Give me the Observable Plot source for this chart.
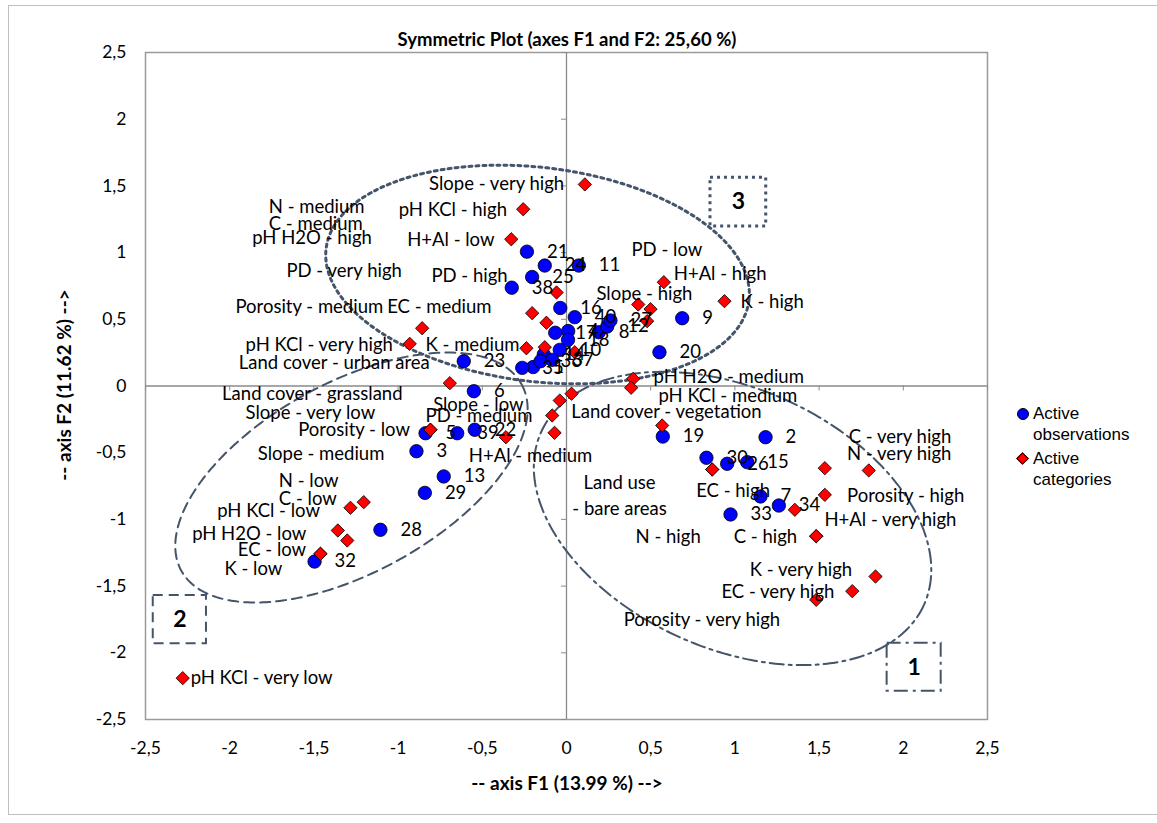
<!DOCTYPE html>
<html><head><meta charset="utf-8">
<script src="https://cdn.jsdelivr.net/npm/d3@7"></script>
<script src="https://cdn.jsdelivr.net/npm/@observablehq/plot@0.6"></script>
<style>
body{margin:0;background:#fff;font-family:Lato,sans-serif;}
#wrap{position:relative;width:1157px;height:823px;overflow:hidden;}
#border{position:absolute;left:8px;top:5px;width:1170px;height:810px;border:1px solid #bfbfbf;box-sizing:border-box;}
#chart{position:absolute;left:0;top:0;}
.t{position:absolute;font-family:Lato,sans-serif;font-weight:bold;color:#000;white-space:nowrap;}
#title{left:0;width:1134px;top:28px;text-align:center;font-size:18.5px;}
#xtitle{left:0;width:1134px;top:771px;text-align:center;font-size:19px;}
#ytitle{left:63px;top:385px;transform:translate(-50%,-50%) rotate(-90deg);font-size:19px;}
#legend{position:absolute;left:1016px;top:403px;font-family:"Liberation Sans",Arial,sans-serif;font-size:17px;line-height:21px;color:#000;}
.li{position:relative;padding-left:17px;margin-bottom:3px;}
.dotc{position:absolute;left:1px;top:5px;width:12px;height:12px;border-radius:50%;background:#0000ff;border:1px solid #000;box-sizing:border-box;}
.dotd{position:absolute;left:2px;top:6px;width:9px;height:9px;background:#ff0000;border:1px solid #000;box-sizing:border-box;transform:rotate(45deg);}
</style></head>
<body>
<div id="wrap">
  <div id="border"></div>
  <div id="chart"></div>
  <div id="title" class="t">Symmetric Plot (axes F1 and F2: 25,60 %)</div>
  <div id="xtitle" class="t">-- axis F1 (13.99 %) --&gt;</div>
  <div id="ytitle" class="t">-- axis F2 (11.62 %) --&gt;</div>
  <div id="legend">
    <div class="li"><span class="dotc"></span>Active<br>observations</div>
    <div class="li"><span class="dotd"></span>Active<br>categories</div>
  </div>
</div>
<script>
// ---- data ----
const axisTicks = [-2.5, -2, -1.5, -1, -0.5, 0, 0.5, 1, 1.5, 2, 2.5];

const obsId = [1,2,3,4,5,6,7,8,9,10,11,12,13,14,15,16,17,18,19,20,21,22,23,24,25,26,27,28,29,30,32,33,34,35,36,37,38,39,40];
const obsF1 = [-0.198,1.182,-0.891,0.010,-0.837,-0.550,1.152,0.192,0.687,-0.040,0.073,0.242,-0.729,-0.135,1.073,-0.037,-0.067,0.009,0.572,0.552,-0.235,-0.545,-0.610,-0.129,-0.204,0.954,0.261,-1.105,-0.841,0.831,-1.496,0.974,1.261,-0.263,-0.154,-0.085,-0.325,-0.649,0.049];
const obsF2 = [0.142,-0.384,-0.489,0.412,-0.354,-0.039,-0.828,0.403,0.508,0.271,0.903,0.446,-0.678,0.236,-0.571,0.585,0.399,0.346,-0.379,0.253,1.007,-0.328,0.186,0.903,0.817,-0.583,0.491,-1.078,-0.801,-0.538,-1.316,-0.963,-0.896,0.136,0.186,0.196,0.737,-0.354,0.516];

const catName = ["Slope - very high","pH KCl - high","H+Al - low","PD - high","EC - medium","N - medium","Porosity - medium","pH KCl - very high","K - medium","C - medium","Land cover - grassland","H+Al - high","K - high","PD - low","Slope - high","PD - very high","pH H2O - high","pH H2O - medium","pH KCl - medium","Land cover - urban area","Slope - low","PD - medium","Slope - very low","Land cover - vegetation","EC - high","C - very high","N - very high","Porosity - high","H+Al - very high","C - high","K - very high","EC - very high","Porosity - very high","Porosity - low","H+Al - medium","K - low","C - low","N - low","pH H2O - low","pH KCl - low","pH KCl - very low","Slope - medium","EC - low","N - high","Land use\n- bare areas"];
const catF1 = [0.109,-0.257,-0.328,-0.059,-0.204,-0.119,-0.857,-0.931,-0.238,-0.129,-0.693,0.578,0.938,0.426,0.499,0.479,0.049,0.396,0.384,0.030,-0.040,-0.085,-0.071,0.568,0.865,1.534,1.795,1.534,1.356,1.483,1.835,1.697,1.483,-0.808,-0.360,-1.461,-1.283,-1.204,-1.358,-1.302,-2.279,-0.808,-1.461,1.483,0.865];
const catF2 = [1.511,1.325,1.100,0.701,0.546,0.474,0.433,0.316,0.283,0.291,0.021,0.778,0.636,0.611,0.576,0.486,0.253,0.054,-0.013,-0.058,-0.109,-0.221,-0.351,-0.296,-0.626,-0.616,-0.633,-0.816,-0.928,-1.126,-1.428,-1.538,-1.603,-0.328,-0.384,-1.258,-0.913,-0.871,-1.083,-1.158,-2.190,-0.328,-1.258,-1.126,-0.626];
// where each category label sits (left end of the text, vertical middle), in axis units
const catLabelF1 = [-0.816,-0.996,-0.946,-0.802,-1.065,-1.768,-1.966,-1.906,-0.837,-1.768,-2.045,0.637,1.033,0.386,0.178,-1.663,-1.866,0.517,0.546,-1.946,-0.792,-0.837,-1.906,0.028,0.770,1.676,1.666,1.666,1.532,0.993,1.088,0.920,0.340,-1.593,-0.580,-2.031,-1.708,-1.708,-2.223,-2.074,-2.232,-1.833,-1.952,0.410,0.315];
const catLabelF2 = [1.511,1.316,1.091,0.821,0.591,1.340,0.591,0.304,0.304,1.211,-0.064,0.836,0.628,1.016,0.691,0.861,1.111,0.064,-0.079,0.171,-0.146,-0.229,-0.201,-0.196,-0.789,-0.384,-0.513,-0.828,-1.008,-1.133,-1.383,-1.546,-1.758,-0.334,-0.528,-1.376,-0.846,-0.714,-1.108,-0.939,-2.186,-0.508,-1.233,-1.133,-0.805];
const catLabelAnchor = catName.map(n => n.includes("\n") ? "middle" : "start");

// group outlines (centre in axis units, semi-axes in px, tilt in degrees)
const groupId = ["1","2","3"];
const groupCF1 = [0.986,-1.277,-0.172];
const groupCF2 = [-0.993,-0.686,0.836];
const groupA = [210,194,213];
const groupB = [130,95,107];
const groupTilt = [24.3,-28.7,7];
const groupDash = ["14,5,3,5","10,6","3,4"];
const groupWidth = [2,2,3];
// numbered boxes (axis units)
const boxX1 = [1.904,-2.454,0.855], boxX2 = [2.225,-2.138,1.186];
const boxY1 = [-1.928,-1.570,1.561], boxY2 = [-2.288,-1.933,1.196];

// ---- layout ----
const W = 1157, H = 823, mL = 145, mR = 170, mT = 52, mB = 104;
const kx = (W - mL - mR) / 5, ky = (H - mT - mB) / 5;
const fmt = d => String(d).replace(".", ",");
const outline = "#44546A";
const fs = 18.5;

const obs = obsId.map((id, i) => ({id: String(id), x: obsF1[i], y: obsF2[i]}));
const cats = catName.map((n, i) => ({name: n, x: catF1[i], y: catF2[i], lx: catLabelF1[i], ly: catLabelF2[i], anchor: catLabelAnchor[i]}));

function ellipsePts(g) {
  const th = groupTilt[g] * Math.PI / 180, pts = [];
  for (let k = 0; k < 360; k++) {
    const t = k * Math.PI / 180;
    const u = groupA[g] * Math.cos(t), v = groupB[g] * Math.sin(t);
    const dx = u * Math.cos(th) - v * Math.sin(th);
    const dy = u * Math.sin(th) + v * Math.cos(th);
    pts.push({x: groupCF1[g] + dx / kx, y: groupCF2[g] - dy / ky});
  }
  return pts;
}

const marks = [
  Plot.frame({stroke: "#9a9a9a", strokeWidth: 1.5}),
  Plot.ruleX([0], {stroke: "#8a8a8a", strokeWidth: 1.3}),
  Plot.ruleY([0], {stroke: "#8a8a8a", strokeWidth: 1.3}),
  Plot.ruleX(axisTicks, {x: d => d, y1: 0, y2: 0, insetTop: 0, insetBottom: -5, stroke: "#8a8a8a"}),
  Plot.ruleY(axisTicks, {y: d => d, x1: 0, x2: 0, insetLeft: -5, insetRight: 0, stroke: "#8a8a8a"}),
  Plot.axisX(axisTicks, {anchor: "bottom", tickSize: 0, tickPadding: 22, tickFormat: fmt, fontSize: 17.5, label: null, fill: "#000"}),
  Plot.axisY(axisTicks, {anchor: "left", tickSize: 0, tickPadding: 19, tickFormat: fmt, fontSize: 17.5, label: null, fill: "#000"})
];
groupId.forEach((gid, g) => {
  marks.push(Plot.line(ellipsePts(g), {x: "x", y: "y", curve: "linear-closed", stroke: outline, strokeWidth: groupWidth[g], strokeDasharray: groupDash[g]}));
  marks.push(Plot.rect([g], {x1: i => boxX1[i], x2: i => boxX2[i], y1: i => boxY1[i], y2: i => boxY2[i], fill: "none", stroke: outline, strokeWidth: groupWidth[g], strokeDasharray: groupDash[g]}));
  marks.push(Plot.text([g], {x: i => (boxX1[i] + boxX2[i]) / 2, y: i => (boxY1[i] + boxY2[i]) / 2, text: i => groupId[i], fontSize: 23, fontWeight: "bold", fill: "#000"}));
});
marks.push(
  Plot.dot(obs, {x: "x", y: "y", r: 6.7, fill: "#0000ff", stroke: "#000", strokeWidth: 0.8}),
  Plot.dot(cats, {x: "x", y: "y", r: 6, symbol: "diamond2", fill: "#ff0000", stroke: "#000", strokeWidth: 0.8}),
  Plot.text(obs, {x: "x", y: "y", text: "id", dx: 20, textAnchor: "start", fontSize: fs, fill: "#000"}),
  Plot.text(cats.filter(d => d.anchor === "start"), {x: "lx", y: "ly", text: "name", textAnchor: "start", fontSize: fs, fill: "#000"}),
  Plot.text(cats.filter(d => d.anchor === "middle"), {x: "lx", y: "ly", text: "name", textAnchor: "middle", fontSize: fs, lineHeight: 1.4, fill: "#000"})
);

const chart = Plot.plot({
  width: W, height: H,
  marginLeft: mL, marginRight: mR, marginTop: mT, marginBottom: mB,
  style: {fontFamily: "Lato, sans-serif", background: "transparent", overflow: "visible"},
  x: {domain: [-2.5, 2.5]},
  y: {domain: [-2.5, 2.5]},
  marks
});
document.getElementById("chart").appendChild(chart);
</script>
</body></html>
